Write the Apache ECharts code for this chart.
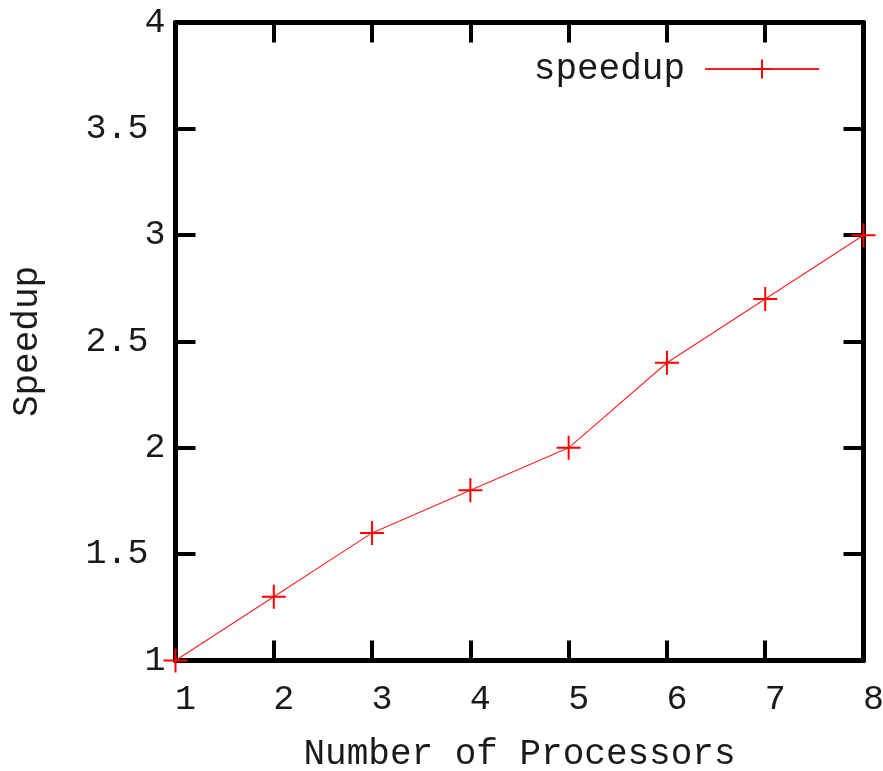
<!DOCTYPE html>
<html>
<head>
<meta charset="utf-8">
<script src="https://cdn.jsdelivr.net/npm/echarts@6/dist/echarts.min.js"></script>
<style>
html,body{margin:0;padding:0;background:#fff;}
#chart{width:883px;height:771px;}
</style>
</head>
<body>
<div id="chart"></div>
<script>
var processors = [1, 2, 3, 4, 5, 6, 7, 8];
var speedup = [1.0, 1.3, 1.6, 1.8, 2.0, 2.4, 2.7, 3.0];
var seriesName = 'speedup';
var xTitle = 'Number of Processors';
var yTitle = 'Speedup';

var FONT = "'Liberation Mono', 'Courier New', monospace";
var TXT = '#1a1a1a';
var plus = 'path://M12,0 L12,24 M0,12 L24,12';

var chart = echarts.init(document.getElementById('chart'), null, {renderer: 'canvas'});
var axisLineStyle = {lineStyle: {color: '#000', width: 5}};
var tick = {show: true, inside: true, length: 20, lineStyle: {color: '#000', width: 4}};

chart.setOption({
  animation: false,
  backgroundColor: '#fff',
  grid: {left: 175.5, right: 19.5, top: 22.5, bottom: 110.5, containLabel: false, outerBoundsMode: 'none'},
  legend: {
    show: true,
    right: 58,
    top: 46,
    align: 'right',
    itemWidth: 114,
    itemHeight: 24,
    textStyle: {fontFamily: FONT, fontSize: 36, color: TXT, padding: [0, 15, 0, 0]},
    data: [seriesName]
  },
  xAxis: [{
    type: 'value', position: 'bottom', min: 1, max: 8, interval: 1,
    axisLine: axisLineStyle, axisTick: tick, splitLine: {show: false},
    axisLabel: {fontFamily: FONT, fontSize: 35, color: TXT, margin: 22, padding: [0, 0, 0, 20]},
    name: xTitle, nameLocation: 'middle', nameGap: 76,
    nameTextStyle: {fontFamily: FONT, fontSize: 36, color: TXT}
  }, {
    type: 'value', position: 'top', min: 1, max: 8, interval: 1,
    axisLine: axisLineStyle, axisTick: tick, splitLine: {show: false},
    axisLabel: {show: false}
  }],
  yAxis: [{
    type: 'value', position: 'left', min: 1, max: 4, interval: 0.5,
    axisLine: axisLineStyle, axisTick: tick, splitLine: {show: false},
    axisLabel: {
      fontFamily: FONT, fontSize: 35, color: TXT, margin: 10,
      formatter: function (v) {
        return Number.isInteger(v) ? '{i|' + v + '}' : '{d|' + v + '}';
      },
      rich: {
        i: {fontFamily: FONT, fontSize: 35, color: TXT},
        d: {fontFamily: FONT, fontSize: 35, color: TXT, padding: [0, 17, 0, 0]}
      }
    },
    name: yTitle, nameLocation: 'middle', nameGap: 130, nameRotate: 90,
    nameTextStyle: {fontFamily: FONT, fontSize: 36, color: TXT}
  }, {
    type: 'value', position: 'right', min: 1, max: 4, interval: 0.5,
    axisLine: axisLineStyle, axisTick: tick, splitLine: {show: false},
    axisLabel: {show: false}
  }],
  series: [{
    name: seriesName,
    type: 'line',
    xAxisIndex: 0, yAxisIndex: 0,
    data: processors.map(function (p, i) { return [p, speedup[i]]; }),
    symbol: plus,
    symbolSize: 24,
    showSymbol: true,
    clip: false,
    z: 1,
    lineStyle: {color: '#ff2020', width: 1.1},
    itemStyle: {color: '#ff0000', borderColor: '#ff0000', borderWidth: 2}
  }]
});
</script>
</body>
</html>
